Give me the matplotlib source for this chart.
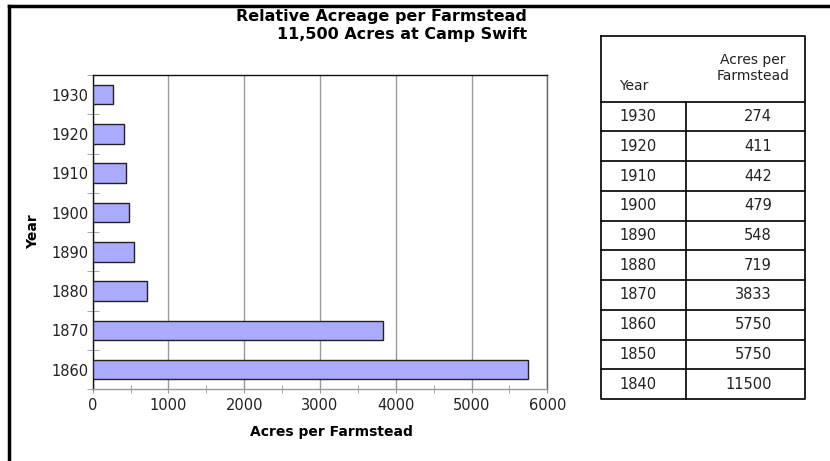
import matplotlib.pyplot as plt
import numpy as np
from matplotlib.lines import Line2D

# data
years = ['1930', '1920', '1910', '1900', '1890', '1880', '1870', '1860']
acres = [274, 411, 442, 479, 548, 719, 3833, 5750]
table_years = ['1930', '1920', '1910', '1900', '1890', '1880', '1870', '1860', '1850', '1840']
table_acres = ['274', '411', '442', '479', '548', '719', '3833', '5750', '5750', '11500']
title1 = 'Relative Acreage per Farmstead'
title2 = '11,500 Acres at Camp Swift'

plt.rcParams['font.family'] = ['DejaVu Sans']
W, H = 830, 461
fig = plt.figure(figsize=(W / 100, H / 100), dpi=100)

# bar chart axes (pixel box 92.7..547.3 x 75..389.3)
ax = fig.add_axes([92.7 / W, 1 - 389.3 / H, (547.3 - 92.7) / W, (389.3 - 75) / H])
pos = np.arange(len(years))[::-1]
ax.barh(pos, acres, height=0.5, color='#aaaaff', edgecolor='#222222', linewidth=1, zorder=3)
ax.set_xlim(0, 6000)
ax.set_ylim(-0.5, len(years) - 0.5)
ax.set_xticks(np.arange(0, 6001, 1000))
ax.set_xticks(np.arange(500, 6000, 1000), minor=True)
ax.set_yticks(pos)
ax.set_yticklabels(years)
ax.set_yticks(np.arange(-0.5, len(years), 1), minor=True)
ax.tick_params(axis='y', which='major', length=0, labelsize=10.5, colors='#222222', pad=3)
ax.tick_params(axis='y', which='minor', length=8, direction='inout', color='#999999')
ax.tick_params(axis='x', which='major', length=6, direction='inout', color='#999999',
               labelsize=10.5, labelcolor='#222222', pad=3)
ax.tick_params(axis='x', which='minor', length=6, direction='inout', color='#999999')
ax.grid(axis='x', which='major', color='#999999', linewidth=1, zorder=0)
ax.spines['left'].set_color('#111111')
ax.spines['top'].set_color('#111111')
ax.spines['right'].set_color('#666666')
ax.spines['bottom'].set_color('#999999')
for s in ax.spines.values():
    s.set_linewidth(1)

fig.text(331 / W, 1 - 432 / H, 'Acres per Farmstead', ha='center', va='center',
         fontsize=10, fontweight='bold')
fig.text(33 / W, 1 - 232 / H, 'Year', ha='center', va='center', rotation=90,
         fontsize=10, fontweight='bold')
fig.text(527 / W, 1 - 17 / H, title1, ha='right', va='center', fontsize=11.5, fontweight='bold')
fig.text(527 / W, 1 - 34 / H, title2, ha='right', va='center', fontsize=11.5, fontweight='bold')

# outer frame (only left and top visible)
fig.add_artist(Line2D([8.5 / W, 8.5 / W], [0, 1 - 6 / H], color='black', linewidth=2.5))
fig.add_artist(Line2D([8.5 / W, 1], [1 - 6 / H, 1 - 6 / H], color='black', linewidth=2.5))

# table drawn in a pixel-space overlay
tab = fig.add_axes([0, 0, 1, 1])
tab.set_xlim(0, W)
tab.set_ylim(H, 0)
tab.axis('off')
x0, x1, x2 = 601, 685.7, 805
y_top, y_head = 36, 101.7
row_h = (399 - y_head) / len(table_years)
y_bot = y_head + row_h * len(table_years)
lc = '#111111'
tab.plot([x0, x2, x2, x0, x0], [y_top, y_top, y_bot, y_bot, y_top], color=lc, lw=1.3)
tab.plot([x1, x1], [y_head, y_bot], color=lc, lw=1.3)
for i in range(len(table_years)):
    y = y_head + i * row_h
    tab.plot([x0, x2], [y, y], color=lc, lw=1.3)
    tab.text(619, y + row_h / 2, table_years[i], ha='left', va='center', fontsize=10.5, color='#222222')
    tab.text(772, y + row_h / 2, table_acres[i], ha='right', va='center', fontsize=10.5, color='#222222')
tab.text(619, 86, 'Year', ha='left', va='center', fontsize=10, color='#222222')
tab.text(753, 68, 'Acres per\nFarmstead', ha='center', va='center', fontsize=10,
         color='#222222', linespacing=1.1)

fig.savefig('out.png', dpi=100)
